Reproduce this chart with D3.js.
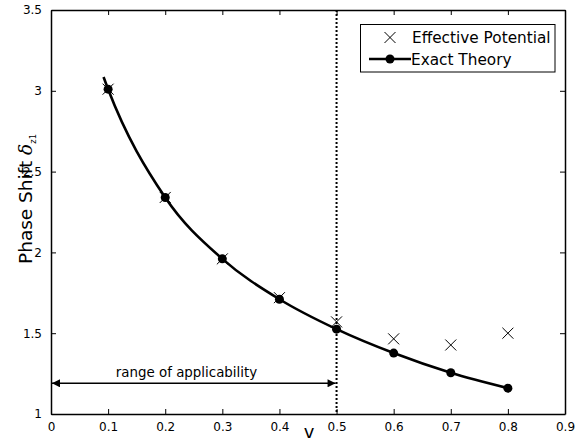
<!DOCTYPE html>
<html>
<head>
<meta charset="utf-8">
<script src="https://cdn.jsdelivr.net/npm/d3@7"></script>
<style>
  html, body { margin: 0; padding: 0; background: #fff; }
  svg { display: block; font-family: "DejaVu Sans", sans-serif; }
</style>
</head>
<body>
<svg id="chart" width="575" height="442"></svg>
<script>
// Phase shift versus v: effective-potential estimate and exact theory
const vValues = [0.1, 0.2, 0.3, 0.4, 0.5, 0.6, 0.7, 0.8];
const effectivePotential = [3.01, 2.34, 1.96, 1.72, 1.57, 1.465, 1.427, 1.50];
const exactTheory = [3.01, 2.34, 1.96, 1.71, 1.525, 1.377, 1.255, 1.16];
// exact curve starts a little before the first sampled point
const exactCurveStart = { v: 0.092, y: 3.085 };
const xTicks = [0, 0.1, 0.2, 0.3, 0.4, 0.5, 0.6, 0.7, 0.8, 0.9];
const yTicks = [1, 1.5, 2, 2.5, 3, 3.5];
const applicability = { from: 0, to: 0.5, y: 1.19, label: "range of applicability" };
const limitV = 0.5;

const svg = d3.select("#chart");
const margin = { left: 51, right: 10, top: 10, bottom: 28 };
const W = 575, H = 442;
const x = d3.scaleLinear().domain([0, 0.9]).range([margin.left, W - margin.right]);
const y = d3.scaleLinear().domain([1, 3.5]).range([H - margin.bottom, margin.top]);

const fmt = d => String(d);

// axes with inward ticks on all sides
const tickLen = 5;
svg.append("g").attr("transform", `translate(0,${y(1)})`)
  .call(d3.axisBottom(x).tickValues(xTicks).tickFormat(fmt).tickSizeInner(-tickLen).tickSizeOuter(0).tickPadding(8));
svg.append("g").attr("transform", `translate(0,${y(3.5)})`)
  .call(d3.axisTop(x).tickValues(xTicks).tickFormat("").tickSizeInner(-tickLen).tickSizeOuter(0));
svg.append("g").attr("transform", `translate(${x(0)},0)`)
  .call(d3.axisLeft(y).tickValues(yTicks).tickFormat(fmt).tickSizeInner(-tickLen).tickSizeOuter(0).tickPadding(9));
svg.append("g").attr("transform", `translate(${x(0.9)},0)`)
  .call(d3.axisRight(y).tickValues(yTicks).tickFormat("").tickSizeInner(-tickLen).tickSizeOuter(0));

svg.selectAll(".domain").attr("stroke", "#000").attr("stroke-width", 1.5);
svg.selectAll(".tick line").attr("stroke", "#000").attr("stroke-width", 1);
svg.selectAll(".tick text").attr("font-size", 12).attr("fill", "#000")
  .attr("font-family", "DejaVu Sans, sans-serif");

// vertical dotted limit line
svg.append("line")
  .attr("x1", x(limitV)).attr("x2", x(limitV))
  .attr("y1", y(3.5)).attr("y2", y(1))
  .attr("stroke", "#000").attr("stroke-width", 2)
  .attr("stroke-dasharray", "2,2");

// exact theory curve
const curvePts = [exactCurveStart].concat(vValues.map((v, i) => ({ v, y: exactTheory[i] })));
svg.append("path")
  .datum(curvePts)
  .attr("fill", "none").attr("stroke", "#000").attr("stroke-width", 2.6)
  .attr("d", d3.line().x(d => x(d.v)).y(d => y(d.y)).curve(d3.curveMonotoneX));

svg.append("g").selectAll("circle")
  .data(vValues.map((v, i) => ({ v, y: exactTheory[i] })))
  .join("circle")
  .attr("cx", d => x(d.v)).attr("cy", d => y(d.y)).attr("r", 4.5).attr("fill", "#000");

// effective potential crosses
const cross = 5.5;
const crossPath = (cx, cy) =>
  `M${cx - cross},${cy - cross}L${cx + cross},${cy + cross}M${cx - cross},${cy + cross}L${cx + cross},${cy - cross}`;
const crossG = svg.append("g").attr("stroke", "#000").attr("stroke-width", 1);
vValues.forEach((v, i) => {
  crossG.append("path").attr("d", crossPath(x(v), y(effectivePotential[i])));
});

// range of applicability arrow
const defs = svg.append("defs");
defs.append("marker").attr("id", "ah").attr("viewBox", "0 0 10 10")
  .attr("refX", 10).attr("refY", 5).attr("markerWidth", 14).attr("markerHeight", 8)
  .attr("markerUnits", "userSpaceOnUse").attr("orient", "auto-start-reverse")
  .append("path").attr("d", "M0,0L10,5L0,10z").attr("fill", "#000");
svg.append("line")
  .attr("x1", x(applicability.from) + 1).attr("x2", x(applicability.to) - 1)
  .attr("y1", y(applicability.y)).attr("y2", y(applicability.y))
  .attr("stroke", "#000").attr("stroke-width", 1.5)
  .attr("marker-start", "url(#ah)").attr("marker-end", "url(#ah)");
svg.append("text")
  .attr("x", 186.5)
  .attr("y", y(applicability.y) - 6.5)
  .attr("text-anchor", "middle").attr("font-size", 13.4)
  .text(applicability.label);

// axis labels
svg.append("text")
  .attr("x", 309).attr("y", 438).attr("text-anchor", "middle")
  .attr("font-size", 18).text("v");
const yl = svg.append("text")
  .attr("transform", `translate(32,264) rotate(-90)`)
  .attr("text-anchor", "start").attr("font-size", 18.5);
yl.append("tspan").text("Phase Shift ");
yl.append("tspan").attr("font-family", "DejaVu Serif, serif").attr("font-style", "italic").text("δ");
yl.append("tspan").attr("font-size", 8.5).attr("dy", 4).text("z1");

// legend
const lg = svg.append("g");
lg.append("rect").attr("x", 360.5).attr("y", 24.5).attr("width", 194.5).attr("height", 47.5)
  .attr("fill", "#fff").attr("stroke", "#000").attr("stroke-width", 1);
lg.append("path").attr("stroke", "#000").attr("stroke-width", 1).attr("d", crossPath(390, 37.5));
lg.append("text").attr("x", 412).attr("y", 42.5).attr("font-size", 15.3).text("Effective Potential");
lg.append("line").attr("x1", 369).attr("x2", 411).attr("y1", 59).attr("y2", 59)
  .attr("stroke", "#000").attr("stroke-width", 2.6);
lg.append("circle").attr("cx", 390).attr("cy", 59).attr("r", 4.5).attr("fill", "#000");
lg.append("text").attr("x", 411).attr("y", 64.5).attr("font-size", 15.3).text("Exact Theory");
</script>
</body>
</html>
